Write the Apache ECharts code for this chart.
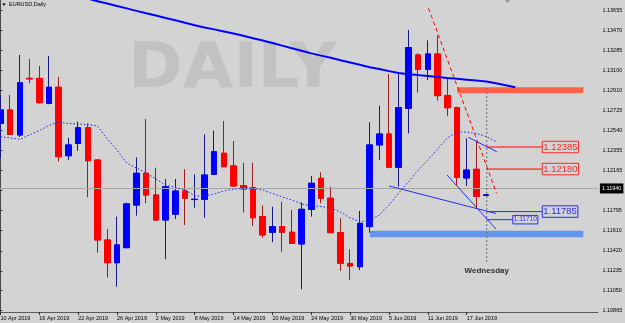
<!DOCTYPE html>
<html><head><meta charset="utf-8">
<script src="https://cdn.jsdelivr.net/npm/echarts@6/dist/echarts.min.js"></script>
<style>html,body{margin:0;padding:0;background:#d3d3d3;}#c{width:625px;height:323px;}</style>
</head><body><div id="c"></div>
<script>
// ---- data (EURUSD, Daily) ----
const dates = ['10 Apr 2019','11 Apr 2019','12 Apr 2019','15 Apr 2019','16 Apr 2019','17 Apr 2019','18 Apr 2019','19 Apr 2019',
'22 Apr 2019','23 Apr 2019','24 Apr 2019','25 Apr 2019','26 Apr 2019','29 Apr 2019','30 Apr 2019','1 May 2019','2 May 2019',
'3 May 2019','6 May 2019','7 May 2019','8 May 2019','9 May 2019','10 May 2019','13 May 2019','14 May 2019','15 May 2019',
'16 May 2019','17 May 2019','20 May 2019','21 May 2019','22 May 2019','23 May 2019','24 May 2019','27 May 2019','28 May 2019',
'29 May 2019','30 May 2019','31 May 2019','3 Jun 2019','4 Jun 2019','5 Jun 2019','6 Jun 2019','7 Jun 2019','10 Jun 2019',
'11 Jun 2019','12 Jun 2019','13 Jun 2019','14 Jun 2019','17 Jun 2019','18 Jun 2019','19 Jun 2019'];
const emptySlots = 11; // empty bars to the right of the last candle (chart shift)

const opens  = [1.12605,1.12729,1.12497,1.13023,1.13023,1.12791,1.12940,1.12304,1.12419,1.12564,1.12264,1.11521,1.11310,1.11450,1.11846,1.12141,1.11939,1.11707,1.11760,1.11976,1.11897,1.11899,1.12131,1.12327,1.12209,1.12026,1.12007,1.11738,1.11593,1.11645,1.11593,1.11484,1.11806,1.12094,1.11909,1.11589,1.11303,1.11273,1.11645,1.12404,1.12506,1.12197,1.12745,1.13240,1.13107,1.13249,1.12864,1.12752,1.12097,1.12178,1.11935];
const closes = [1.12729,1.12503,1.12982,1.13018,1.12797,1.12940,1.12295,1.12404,1.12564,1.12258,1.11521,1.11310,1.11475,1.11856,1.12141,1.11939,1.11707,1.12016,1.11976,1.11909,1.11899,1.12125,1.12341,1.12202,1.12023,1.11995,1.11728,1.11568,1.11645,1.11593,1.11490,1.11806,1.12048,1.11909,1.11589,1.11305,1.11280,1.11676,1.12404,1.12506,1.12197,1.12750,1.13308,1.13107,1.13249,1.12862,1.12750,1.12102,1.12171,1.11925,1.11940];
const lows   = [1.12283,1.12498,1.12478,1.12977,1.12789,1.12782,1.12249,1.12264,1.12348,1.11918,1.11403,1.11171,1.11087,1.11444,1.11747,1.11862,1.11700,1.11342,1.11716,1.11660,1.11821,1.11728,1.12125,1.12197,1.12016,1.11775,1.11651,1.11542,1.11500,1.11412,1.11484,1.11063,1.11738,1.11862,1.11583,1.11233,1.11150,1.11242,1.11589,1.12264,1.12187,1.12016,1.12512,1.12890,1.13008,1.12817,1.12673,1.12023,1.12023,1.11816,1.11930];
const highs  = [1.12868,1.12868,1.13240,1.13203,1.13138,1.13230,1.13038,1.12472,1.12620,1.12605,1.12269,1.11623,1.11738,1.11868,1.12289,1.12645,1.12193,1.12088,1.12088,1.12178,1.12131,1.12503,1.12537,1.12627,1.12441,1.12239,1.12239,1.11840,1.11830,1.11877,1.11800,1.11871,1.12116,1.12150,1.12016,1.11723,1.11435,1.11791,1.12615,1.12769,1.13063,1.13070,1.13472,1.13255,1.13376,1.13421,1.13020,1.12761,1.12466,1.12432,1.11945];

// moving averages (solid slow MA, dotted fast MA)
const maSlow = [1.13983,1.13959,1.13935,1.13910,1.13885,1.13861,1.13837,1.13813,1.13789,1.13764,
1.13740,1.13718,1.13695,1.13673,1.13650,1.13628,1.13607,1.13584,1.13562,1.13539,
1.13517,1.13495,1.13478,1.13459,1.13440,1.13418,1.13396,1.13374,1.13351,1.13327,
1.13303,1.13279,1.13255,1.13234,1.13215,1.13192,1.13171,1.13149,1.13127,1.13109,
1.13090,1.13072,1.13061,1.13053,1.13044,1.13035,1.13027,1.13020,1.13011,1.13002,
1.12994,1.12977,1.12959,1.12941];
const maFast = [1.12481,1.12469,1.12457,1.12497,1.12538,1.12585,1.12617,1.12603,1.12599,1.12594,
1.12580,1.12459,1.12357,1.12236,1.12190,1.12144,1.12088,1.12032,1.12009,1.11986,
1.11930,1.11930,1.11948,1.11976,1.11995,1.12000,1.12000,1.11986,1.11953,1.11921,
1.11893,1.11856,1.11837,1.11832,1.11818,1.11781,1.11726,1.11691,1.11702,1.11753,
1.11846,1.11958,1.12060,1.12171,1.12264,1.12367,1.12469,1.12524,1.12524,1.12511,
1.12483,1.12436];

// price axis tick labels
const yTicks = [1.13655,1.13470,1.13285,1.13100,1.12910,1.12725,1.12540,1.12355,1.12165,1.11980,1.11795,1.11610,1.11420,1.11235,1.11050,1.10865];
const lastPrice = 1.11940;

// annotations (x in bar-index units, y in price)
const redLevels  = [1.12385, 1.12180];
const blueLevels = [1.11785];
const smallLevels = [1.11710];
const resistanceZone = [1.12884, 1.12940];
const supportZone    = [1.11546, 1.11607];
const redTrend   = [[44.07, 1.13674], [51.07, 1.11955]];
const blueTrends = [
  [[40.0, 1.12023], [51.01, 1.11767]],
  [[48.16, 1.12475], [51.09, 1.12341]],
  [[45.97, 1.12125], [51.01, 1.11623]]
];
const markerBar = 50.06;
const markerRange = [1.12933, 1.11307];
const markerText = 'Wednesday';
const markerTextPrice = 1.11233;

// ---- chart ----
const FONT = 'Liberation Sans';
const cats = dates.concat(new Array(emptySlots).fill(''));
const nCats = cats.length;
const showIdx = (i) => i % 4 === 0 && i < dates.length;

const candleFull = opens.map((o, i) => [o, closes[i], lows[i], highs[i]]);
const candleBody = opens.map((o, i) => [o, closes[i], Math.min(o, closes[i]), Math.max(o, closes[i])]);

const labelStyle = (color, size) => ({
  show: true, position: 'right', distance: 0, color: color, fontFamily: FONT, fontSize: size,
  borderColor: color, borderWidth: 1, padding: [1, 1, 0, 1], lineHeight: size + 1
});

const series = [
  { type: 'candlestick', name: 'wicks', xAxisIndex: 0, yAxisIndex: 0, barWidth: 6, silent: true, z: 3,
    data: candleFull,
    itemStyle: { color: 'rgba(0,0,0,0)', color0: 'rgba(0,0,0,0)', borderColor: '#181890', borderColor0: '#a01c1c', borderWidth: 1 },
    markLine: { silent: true, symbol: 'none', animation: false,
      data: [{ yAxis: lastPrice }],
      lineStyle: { color: '#a6a6a6', type: 'solid', width: 1 },
      label: { show: true, position: 'end', distance: 2, formatter: lastPrice.toFixed(5),
        backgroundColor: '#000', color: '#fff', fontFamily: FONT, fontSize: 5.5, padding: [2, 2] } } },
  { type: 'candlestick', name: 'bodies', xAxisIndex: 0, yAxisIndex: 0, barWidth: 6, silent: true, z: 4,
    data: candleBody,
    itemStyle: { color: '#0000ff', color0: '#ff0000', borderColor: '#0000ff', borderColor0: '#ff0000', borderWidth: 1 } },
  { type: 'line', xAxisIndex: 0, yAxisIndex: 0, data: maSlow, symbol: 'none', silent: true, z: 6,
    lineStyle: { color: '#0000ff', width: 2 } },
  { type: 'line', xAxisIndex: 0, yAxisIndex: 0, data: maFast, symbol: 'none', silent: true, z: 6,
    lineStyle: { color: '#2020ff', width: 1, type: [1.5, 2] } },
  { type: 'line', xAxisIndex: 1, yAxisIndex: 0, data: redTrend, symbol: 'none', silent: true, z: 7,
    lineStyle: { color: '#ff0000', width: 1, type: [4, 3] },
    markArea: { silent: true,
      data: [
        [{ coord: [47.03, resistanceZone[1]], itemStyle: { color: '#ff6347' } }, { coord: [60.0, resistanceZone[0]] }],
        [{ coord: [38.04, supportZone[1]], itemStyle: { color: '#6495ed' } }, { coord: [60.0, supportZone[0]] }]
      ] } },
  { type: 'line', xAxisIndex: 1, yAxisIndex: 0, data: [[markerBar, markerRange[0]], [markerBar, markerRange[1]]],
    symbol: 'none', silent: true, z: 7, lineStyle: { color: '#6a6a6a', width: 1, type: [2, 2] } }
];
blueTrends.forEach(seg => series.push({ type: 'line', xAxisIndex: 1, yAxisIndex: 0, data: seg, symbol: 'none', silent: true, z: 7,
  lineStyle: { color: '#2a2aff', width: 1 } }));
redLevels.forEach(v => series.push({ type: 'line', xAxisIndex: 1, yAxisIndex: 0, data: [[50.06, v], [55.72, v]], symbol: 'none', silent: true, z: 7,
  lineStyle: { color: '#ff0000', width: 1 } }));
blueLevels.forEach(v => series.push({ type: 'line', xAxisIndex: 1, yAxisIndex: 0, data: [[50.06, v], [55.72, v]], symbol: 'none', silent: true, z: 7,
  lineStyle: { color: '#2a2aff', width: 1 } }));
smallLevels.forEach(v => series.push({ type: 'line', xAxisIndex: 1, yAxisIndex: 0, data: [[50.06, v], [52.69, v]], symbol: 'none', silent: true, z: 7,
  lineStyle: { color: '#2a2aff', width: 1 } }));

// text labels for levels and the day marker
const textPoints = [];
redLevels.forEach(v => textPoints.push({ value: [55.72, v], label: Object.assign(labelStyle('#ff0000', 9.5), { formatter: v.toFixed(5) }) }));
blueLevels.forEach(v => textPoints.push({ value: [55.72, v], label: Object.assign(labelStyle('#0000ff', 9.5), { formatter: v.toFixed(5) }) }));
smallLevels.forEach(v => textPoints.push({ value: [52.69, v], label: Object.assign(labelStyle('#0000ff', 6.5), { formatter: v.toFixed(5) }) }));
textPoints.push({ value: [markerBar, markerTextPrice], label: { show: true, position: 'inside', formatter: markerText,
  fontFamily: FONT, fontSize: 8, fontWeight: 'bold', color: '#000' } });
series.push({ type: 'scatter', xAxisIndex: 1, yAxisIndex: 0, data: textPoints, symbolSize: 1, silent: true, z: 8,
  itemStyle: { color: 'rgba(0,0,0,0)' } });

const chart = echarts.init(document.getElementById('c'), null, { renderer: 'canvas' });
chart.setOption({
  animation: false,
  backgroundColor: '#d3d3d3',
  grid: { left: -4.42, right: 27.1, top: 0, bottom: 11, containLabel: false, outerBoundsMode: 'none' },
  xAxis: [
    { type: 'category', data: cats, boundaryGap: true,
      axisLine: { show: true, lineStyle: { color: '#5a5a5a', width: 1 } },
      axisTick: { show: true, alignWithLabel: true, interval: (i) => showIdx(i), length: 3, lineStyle: { color: '#303030' } },
      axisLabel: { show: true, interval: (i) => showIdx(i), align: 'left', margin: 3.5, fontSize: 5.5, color: '#000', fontFamily: FONT },
      splitLine: { show: false } },
    { type: 'value', min: -0.5, max: nCats - 0.5, show: false }
  ],
  yAxis: [{ type: 'value', position: 'right', min: 1.10852, max: 1.13751, scale: true,
    splitLine: { show: false },
    axisLine: { show: true, lineStyle: { color: '#4a4a4a', width: 1 } },
    axisTick: { show: true, customValues: yTicks, length: 2, lineStyle: { color: '#303030' } },
    axisLabel: { show: true, customValues: yTicks, formatter: (v) => v.toFixed(5), margin: 4.5, fontSize: 5.5, color: '#000', fontFamily: FONT } }],
  graphic: [
    { type: 'text', z: 0, zlevel: 0, x: 128, y: 71, scaleX: 1.06, silent: true,
      style: { text: 'DAILY', font: 'bold 62px "DejaVu Sans"', fill: '#c2c2c2', align: 'left', verticalAlign: 'middle' } },
    { type: 'polygon', z: 100, silent: true, shape: { points: [[2, 3.4], [6, 3.4], [4, 5.8]] }, style: { fill: '#000' } },
    { type: 'text', z: 100, left: 9, top: 1.5, silent: true,
      style: { text: 'EURUSD,Daily', font: '5.5px "Liberation Sans"', fill: '#000' } },
    { type: 'polygon', z: 100, silent: true, shape: { points: [[504.5, 0], [510.5, 0], [507.5, 3]] }, style: { fill: '#9a9a9a' } }
  ],
  series: series
});
</script></body></html>
